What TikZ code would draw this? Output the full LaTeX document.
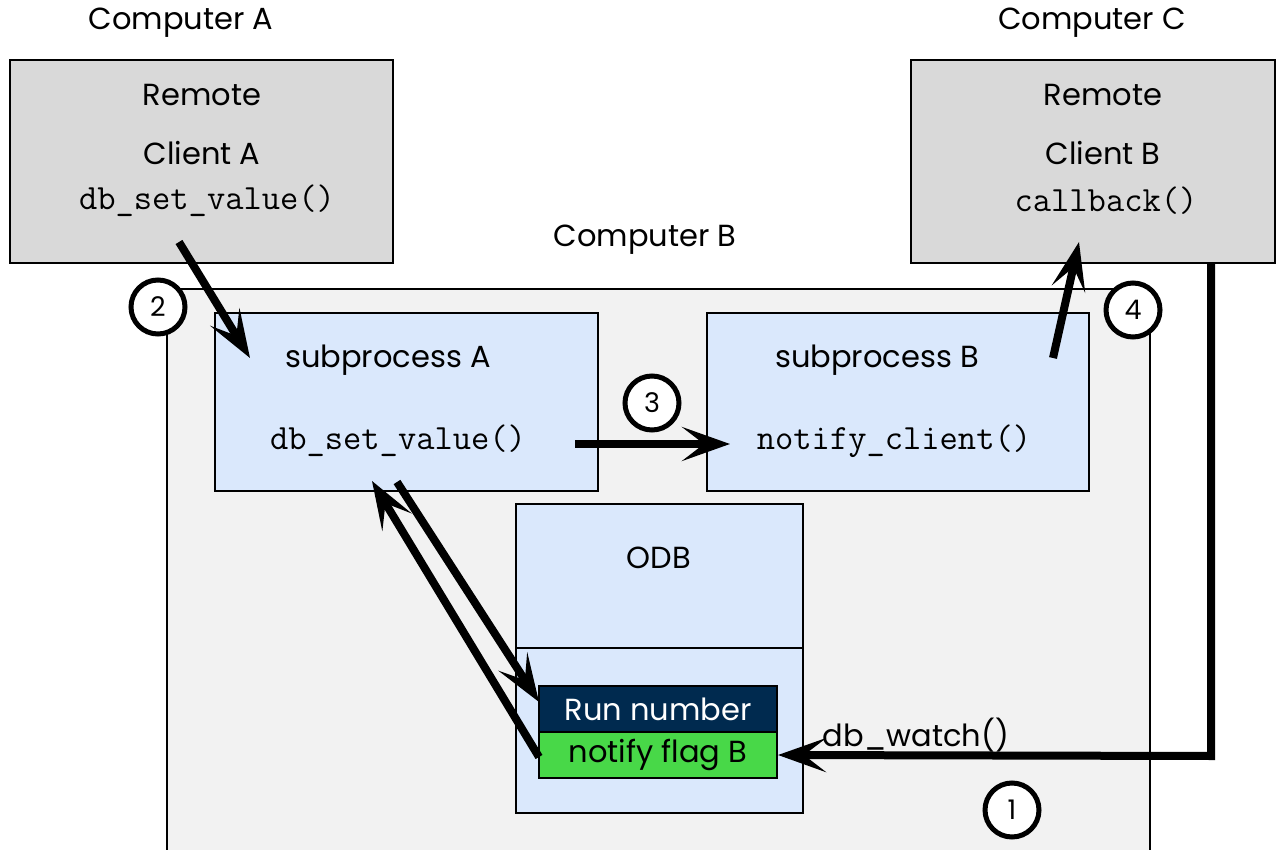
\documentclass[tikz,border=0pt]{standalone}
\usepackage{fontspec}
\setmainfont{Poppins}
\usetikzlibrary{arrows.meta}
\definecolor{gbox}{HTML}{D9D9D9}
\definecolor{pcbox}{HTML}{F2F2F2}
\definecolor{bbox}{HTML}{DAE8FC}
\definecolor{navy}{HTML}{002A4F}
\definecolor{flag}{HTML}{48D848}
\tikzset{
  box/.style={draw=black, line width=2pt, inner sep=0pt},
  lbl/.style={font=\fontsize{30.5}{32}\selectfont, yshift=-3pt},
  code/.style={font=\ttfamily\fontsize{35.5}{37}\selectfont, yshift=-1pt},
  num/.style={circle, draw=black, fill=white, line width=5pt, minimum size=54pt, inner sep=0pt, font=\fontsize{27}{28}\selectfont},
  flow/.style={line width=8pt, -{Stealth[length=48pt,width=34pt,inset=22pt]}},
}
\begin{document}
\begin{tikzpicture}[x=1pt,y=-1pt]
\useasboundingbox (0,0) rectangle (1285,850);
\fill[white] (0,0) rectangle (1285,850);
\node[box, fill=gbox, minimum width=383pt, minimum height=203pt] (clientA) at (201.5,161.5) {};
\node[box, fill=gbox, minimum width=364pt, minimum height=203pt] (clientB) at (1093,161.5) {};
\node[box, fill=pcbox, minimum width=983pt, minimum height=600pt] (compB) at (658.5,589) {};
\node[box, fill=bbox, minimum width=383pt, minimum height=178pt] (subA) at (406.5,402) {};
\node[box, fill=bbox, minimum width=382pt, minimum height=178pt] (subB) at (898,402) {};
\node[box, fill=bbox, minimum width=287pt, minimum height=309pt] (odb) at (659.5,658.5) {};
\draw[line width=2pt] (odb.west |- 0,648) coordinate (odbL) -- (odb.east |- 0,648) coordinate (odbR);
\node[box, fill=navy, text=white, lbl, yshift=3pt, minimum width=238pt, minimum height=46pt] (run) at (658,709) {Run number};
\node[box, fill=flag, lbl, yshift=3pt, minimum width=238pt, minimum height=46pt] (flagB) at (658,755) {notify flag B};

\node[lbl] (compAtxt) at (181,20) {Computer A};
\node[lbl] (compCtxt) at (1092,20) {Computer C};
\node[lbl] (compBtxt) at (645,237) {Computer B};
\node[lbl] (remA) at (202,92) {Remote};
\node[lbl] (cliA) at (202,150) {Client A};
\node[code] (setA) at (207,200) {db\_set\_value()};
\node[lbl] (remB) at (1103,92) {Remote};
\node[lbl] (cliB) at (1103,150) {Client B};
\node[code] (cbB) at (1106,200) {callback()};
\node[lbl] (subAtxt) at (388,357) {subprocess A};
\node[code] (setSub) at (398,440) {db\_set\_value()};
\node[lbl] (subBtxt) at (877,357) {subprocess B};
\node[code] (notif) at (894,440) {notify\_client()};
\node[lbl] (odbtxt) at (659,555) {ODB};
\node[lbl] (watch) at (916,732) {db\_watch()};

\coordinate (a2s) at (179,242);
\coordinate (a2e) at (250,358);
\coordinate (a3s) at (575,444);
\coordinate (a3e) at (730,444);
\coordinate (a4s) at (1053,358);
\coordinate (a4e) at (1079,242);
\coordinate (dnS) at (397,482);
\coordinate (dnE) at (539,702);
\coordinate (upS) at (539,757);
\coordinate (upE) at (372,481);
\coordinate (wTop) at (1211,263);
\coordinate (wCorner) at (1211,756);
\draw[flow] (a2s) -- (a2e);
\draw[flow] (a3s) -- (a3e);
\draw[flow] (a4s) -- (a4e);
\draw[flow] (dnS) -- (dnE);
\draw[flow] (upS) -- (upE);
\draw[flow] (wTop) -- (wCorner) -- (flagB.east);

\node[num] (n2) at (158,307) {2};
\node[num] (n3) at (652,403) {3};
\node[num] (n4) at (1133,310) {4};
\node[num] (n1) at (1012,810) {1};
\end{tikzpicture}
\end{document}
